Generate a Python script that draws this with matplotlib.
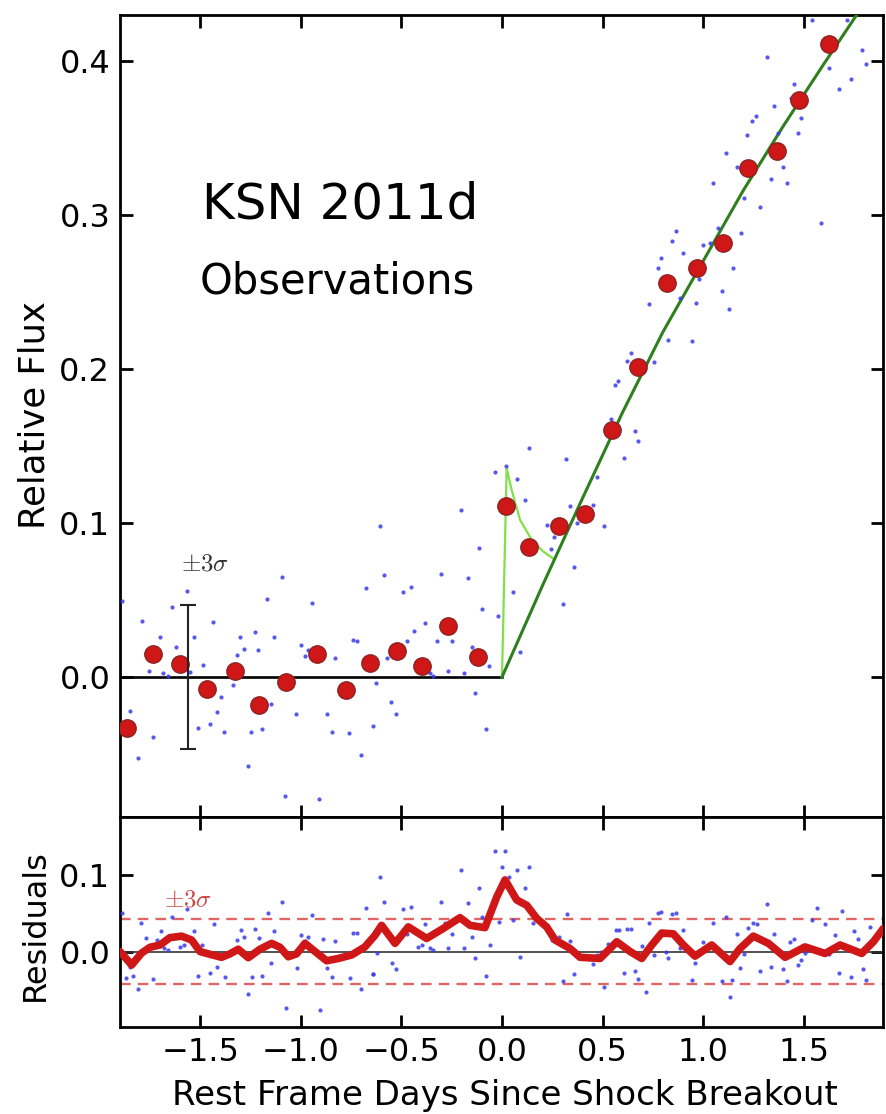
import matplotlib
matplotlib.use("Agg")
import matplotlib.pyplot as plt
import numpy as np

plt.rcParams['mathtext.fontset'] = 'cm'
plt.rcParams['font.family'] = ['DejaVu Sans']

#* binned observations (red circles)
bin_x = [-1.867, -1.735, -1.602, -1.469, -1.328, -1.207, -1.075, -0.922, -0.778,
         -0.657, -0.524, -0.400, -0.267, -0.121, 0.020, 0.136, 0.285, 0.415,
         0.546, 0.678, 0.819, 0.969, 1.098, 1.225, 1.370, 1.478, 1.624]
bin_y = [-0.0333, 0.0147, 0.0082, -0.0080, 0.0041, -0.0182, -0.0030, 0.0147, -0.0084,
         0.0089, 0.0171, 0.0073, 0.0331, 0.0132, 0.1110, 0.0846, 0.0982, 0.1058,
         0.1604, 0.2015, 0.2556, 0.2654, 0.2816, 0.3307, 0.3416, 0.3747, 0.4108]

#* raw flux points (blue dots, top panel)
flux_x = [-1.892, -1.793, -1.771, -1.755, -1.701, -1.685, -1.660, -1.643, -1.622, -1.569,
          -1.552, -1.531, -1.489, -1.436, -1.851, -1.809, -1.738, -1.514, -1.453, -1.416,
          -1.400, -1.381, -1.340, -1.320, -1.303, -1.284, -1.265, -1.249, -1.229, -1.212,
          -1.192, -1.171, -1.151, -1.134, -1.096, -1.078, -1.025, -1.000, -0.980, -0.964,
          -0.945, -0.909, -0.892, -0.872, -0.847, -0.831, -0.760, -0.740, -0.723, -0.703,
          -0.678, -0.643, -0.627, -0.587, -0.571, -0.552, -0.527, -0.491, -0.454, -0.474,
          -0.438, -0.383, -0.358, -0.342, -0.322, -0.303, -0.267, -0.247, -0.187, -0.171,
          -0.151, -0.134, -0.098, -0.080, -0.063, -0.018, 0.053, 0.090, -0.607, -0.206,
          -0.116, -0.036, 0.018, 0.073, 0.133, 0.114, 0.151, 0.222, 0.242, 0.259,
          0.320, 0.338, 0.358, 0.375, 0.454, 0.471, 0.507, 0.544, 0.562, 0.579,
          0.607, 0.660, 0.675, 0.302, 0.624, 0.640, 0.756, 0.733, 0.828, 0.886,
          0.944, 0.963, 0.980, 0.775, 0.791, 0.847, 0.866, 0.902, 0.998, 1.035,
          1.076, 1.093, 1.131, 1.151, 1.188, 1.051, 1.113, 1.168, 1.204, 1.221,
          1.245, 1.264, 1.284, 1.337, 1.355, 1.375, 1.396, 1.416, 1.436, 1.453,
          1.471, 1.488, 1.317, 1.585, 1.624, 1.677, 1.736, 1.544, 1.718, 1.791,
          1.809]
flux_y = [0.0496, 0.0366, 0.0158, 0.0039, 0.0262, 0.0028, 0.0006, 0.0453, 0.0197, 0.0558,
          0.0032, 0.0262, 0.0078, 0.0359, -0.0219, -0.0524, -0.0388, -0.0329, -0.0305, -0.0225,
          -0.0128, -0.0355, -0.0052, 0.0143, 0.0262, 0.0182, -0.0578, -0.0355, 0.0294, 0.0175,
          -0.0340, 0.0504, -0.0177, 0.0262, 0.0651, -0.0773, -0.0242, 0.0208, 0.0136, 0.0175,
          0.0478, -0.0794, 0.0165, -0.0242, -0.0355, 0.0126, -0.0361, 0.0240, 0.0233, -0.0506,
          0.0576, -0.0316, -0.0041, 0.0662, 0.0121, -0.0160, -0.0242, 0.0550, 0.0582, 0.0236,
          0.0301, 0.0353, 0.0024, 0.0007, 0.0233, 0.0669, 0.0039, 0.0233, 0.0028, 0.0641,
          0.0197, -0.0106, 0.0440, -0.0338, 0.0071, 0.0398, 0.0550, 0.0165, 0.0980, 0.1084,
          0.0835, 0.1333, 0.1370, 0.1283, 0.1490, 0.1149, 0.0803, 0.0987, 0.0829, 0.0907,
          0.1413, 0.1110, 0.0716, 0.0998, 0.1117, 0.1300, 0.0980, 0.1675, 0.1894, 0.1924,
          0.1420, 0.1597, 0.1532, 0.0472, 0.2054, 0.2102, 0.2048, 0.2422, 0.2188, 0.2463,
          0.2182, 0.2430, 0.2582, 0.2654, 0.2719, 0.2831, 0.2896, 0.2751, 0.2805, 0.2820,
          0.2918, 0.2509, 0.2390, 0.2654, 0.2885, 0.3206, 0.3405, 0.3310, 0.3108, 0.3520,
          0.3612, 0.3645, 0.3054, 0.3232, 0.3708, 0.3535, 0.3310, 0.3206, 0.3762, 0.3848,
          0.3535, 0.3632, 0.4024, 0.2950, 0.3952, 0.3816, 0.3881, 0.4270, 0.4266, 0.4071,
          0.3978]

#* models
model_x = [0.0, 0.2, 0.4, 0.6, 0.8, 1.0, 1.2, 1.4, 1.6, 1.8, 1.9]
model_y = [0.0, 0.059, 0.116, 0.172, 0.224, 0.270, 0.316, 0.358, 0.398, 0.437, 0.456]
shock_x = [0.0, 0.023, 0.048, 0.090, 0.148, 0.206, 0.254]
shock_y = [0.0, 0.1355, 0.1214, 0.102, 0.089, 0.0814, 0.077]

#* residuals
resid_x = [-1.900, -1.842, -1.793, -1.751, -1.701, -1.652, -1.594, -1.544, -1.502, -1.461,
           -1.395, -1.353, -1.312, -1.262, -1.204, -1.146, -1.104, -1.063, -1.022, -0.980,
           -0.930, -0.872, -0.814, -0.748, -0.682, -0.632, -0.599, -0.532, -0.466, -0.375,
           -0.292, -0.209, -0.159, -0.085, -0.026, 0.015, 0.073, 0.123, 0.173, 0.222,
           0.264, 0.338, 0.388, 0.488, 0.571, 0.637, 0.695, 0.745, 0.794, 0.852,
           0.902, 0.960, 1.043, 1.134, 1.184, 1.250, 1.325, 1.408, 1.507, 1.607,
           1.682, 1.789, 1.847, 1.897]
resid_y = [0.0, -0.0175, -0.002, 0.0055, 0.0085, 0.018, 0.020, 0.015, 0.0, -0.003,
           -0.0075, -0.003, 0.003, -0.008, 0.003, 0.0106, 0.0055, -0.0068, -0.003, 0.0106,
           0.0, -0.012, -0.009, -0.0045, 0.006, 0.021, 0.034, 0.0106, 0.032, 0.017,
           0.030, 0.044, 0.034, 0.031, 0.071, 0.093, 0.067, 0.060, 0.043, 0.032,
           0.015, 0.004, -0.0075, -0.009, 0.0127, 0.0, -0.009, 0.0085, 0.024, 0.023,
           0.0085, -0.006, 0.0085, -0.013, 0.004, 0.020, 0.0106, -0.0075, 0.006, -0.0025,
           0.0085, -0.0025, 0.0127, 0.030]

res_pts_x = [-1.892, -1.796, -1.773, -1.698, -1.718, -1.640, -1.569, -1.531, -1.680, -1.660,
             -1.602, -1.582, -1.491, -1.872, -1.851, -1.834, -1.813, -1.735, -1.511, -1.453,
             -1.416, -1.378, -1.433, -1.320, -1.300, -1.284, -1.229, -1.209, -1.166, -1.133,
             -1.096, -1.245, -1.192, -1.265, -1.149, -1.076, -1.021, -1.000, -0.980, -0.964,
             -0.944, -0.889, -0.831, -0.905, -0.871, -0.847, -0.756, -0.740, -0.723, -0.701,
             -0.678, -0.640, -0.607, -0.587, -0.643, -0.623, -0.549, -0.527, -0.491, -0.454,
             -0.474, -0.416, -0.400, -0.383, -0.358, -0.342, -0.305, -0.284, -0.267, -0.249,
             -0.206, -0.187, -0.171, -0.151, -0.133, -0.114, -0.100, -0.080, -0.060, -0.036,
             0.017, 0.000, -0.017, 0.036, 0.053, 0.073, 0.133, 0.114, 0.090, 0.153,
             0.247, 0.285, 0.322, 0.338, 0.302, 0.358, 0.454, 0.474, 0.491, 0.509,
             0.527, 0.567, 0.580, 0.623, 0.607, 0.642, 0.695, 0.662, 0.678, 0.715,
             0.731, 0.758, 0.775, 0.791, 0.827, 0.847, 0.864, 0.814, 0.886, 0.902,
             0.944, 0.960, 0.998, 1.051, 1.096, 1.113, 1.134, 1.146, 1.168, 1.184,
             1.202, 1.222, 1.250, 1.267, 1.284, 1.318, 1.337, 1.355, 1.400, 1.416,
             1.433, 1.453, 1.471, 1.488, 1.507, 1.544, 1.567, 1.604, 1.624, 1.657,
             1.677, 1.693, 1.736, 1.753, 1.773, 1.793, 1.809, 1.829]
res_pts_y = [0.0496, 0.0374, 0.0171, 0.0266, 0.0149, 0.0452, 0.0552, 0.0266, 0.0041, 0.0020,
             0.0055, 0.0084, 0.0084, -0.0340, -0.0197, -0.0314, -0.0491, -0.0361, -0.0314, -0.0283,
             -0.0205, -0.0327, 0.0357, 0.0149, 0.0279, 0.0184, 0.0292, 0.0180, 0.0504, 0.0262,
             0.0639, -0.0327, -0.0314, -0.0552, -0.0153, -0.0730, -0.0218, 0.0214, 0.0140, 0.0184,
             0.0474, 0.0166, 0.0136, -0.0760, -0.0218, -0.0327, -0.0340, 0.0244, 0.0236, -0.0491,
             0.0569, -0.0296, 0.0971, 0.0647, -0.0296, -0.0024, -0.0153, -0.0231, 0.0548, 0.0582,
             0.0227, 0.0055, 0.0084, 0.0357, 0.0041, 0.0020, 0.0647, 0.0374, 0.0041, 0.0227,
             0.1058, 0.0041, 0.0634, 0.0192, -0.0088, 0.0820, 0.0444, -0.0314, 0.0084, 0.1305,
             0.1305, 0.1093, 0.0387, 0.0963, 0.0405, 0.1058, 0.1093, 0.0820, -0.0076, 0.0374,
             0.0149, 0.0184, 0.0487, 0.0136, -0.0379, -0.0296, -0.0166, -0.0045, 0.0000, -0.0457,
             0.0097, 0.0279, 0.0279, 0.0292, -0.0283, 0.0292, 0.0071, -0.0249, -0.0361, -0.0522,
             0.0374, -0.0045, 0.0504, 0.0517, -0.0088, 0.0487, 0.0504, 0.0000, 0.0041, 0.0279,
             -0.0370, -0.0153, 0.0119, 0.0374, -0.0379, 0.0444, -0.0587, -0.0370, 0.0227, -0.0218,
             -0.0032, 0.0309, 0.0374, 0.0352, -0.0249, 0.0617, -0.0197, 0.0227, -0.0227, -0.0379,
             0.0119, 0.0162, -0.0171, -0.0106, -0.0015, 0.0409, 0.0569, 0.0352, -0.0032, 0.0214,
             -0.0283, 0.0530, -0.0327, 0.0266, 0.0162, -0.0227, -0.0370, 0.0318]

sigma_bar = 0.047     #* +-3 sigma on a single point
sigma_res = 0.042     #* +-3 sigma band in residuals

red = '#d01717'
blue = '#3b3bea'

fig = plt.figure(figsize=(8.87, 11.14), dpi=100)
ax = fig.add_axes([0.1353, 0.2666, 0.8602, 0.7199])
axr = fig.add_axes([0.1353, 0.0781, 0.8602, 0.1885])

#* top panel
ax.plot([-1.9, 0.0], [0.0, 0.0], color='black', lw=1.9, zorder=2)
ax.plot(shock_x, shock_y, color='#80e048', lw=1.6, zorder=2)
ax.plot(model_x, model_y, color='#2f7f1f', lw=2.2, zorder=3)
ax.plot(flux_x, flux_y, 'o', ms=3.0, color=blue, mec='none', alpha=0.85, zorder=4)
ax.plot(bin_x, bin_y, 'o', ms=12.5, mfc=red, mec='#8c2222', mew=1.0, zorder=5)
ax.errorbar([-1.561], [0.0], yerr=[sigma_bar], fmt='none', ecolor='#222222',
            elinewidth=1.5, capsize=5.5, capthick=1.5, zorder=6)
ax.text(-1.478, 0.074, r'$\pm3\sigma$', fontsize=18, color='#333333', ha='center', va='center')
ax.text(-0.806, 0.298, 'KSN 2011d', fontsize=36, ha='center', va='baseline')
ax.text(-0.818, 0.249, 'Observations', fontsize=30, ha='center', va='baseline')

ax.set_xlim(-1.9, 1.895)
ax.set_ylim(-0.0909, 0.4299)
ax.set_yticks([0.0, 0.1, 0.2, 0.3, 0.4])
ax.set_xticks([-1.5, -1.0, -0.5, 0.0, 0.5, 1.0, 1.5])
ax.tick_params(labelbottom=False)

#* residual panel
axr.axhline(0.0, color='#333333', lw=1.2, zorder=2)
for s in (sigma_res, -sigma_res):
    axr.axhline(s, color='#e06666', lw=1.7, dashes=(4.5, 3.0), zorder=2)
axr.plot(res_pts_x, res_pts_y, 'o', ms=3.0, color=blue, mec='none', alpha=0.85, zorder=3)
axr.plot(resid_x, resid_y, color=red, lw=5.5, solid_capstyle='round',
         solid_joinstyle='round', zorder=4)
axr.text(-1.56, 0.067, r'$\pm3\sigma$', fontsize=18, color='#d04545', ha='center', va='center')

axr.set_xlim(-1.9, 1.895)
axr.set_ylim(-0.098, 0.1747)
axr.set_yticks([0.0, 0.1])
axr.set_xticks([-1.5, -1.0, -0.5, 0.0, 0.5, 1.0, 1.5])

for a in (ax, axr):
    for sp in a.spines.values():
        sp.set_linewidth(2.0)
    a.tick_params(direction='in', top=True, right=True, length=9, width=2.0,
                  labelsize=23, pad=7)

fig.text(35 / 887, 1 - 415 / 1114, 'Relative Flux', rotation=90, fontsize=25.5,
         ha='center', va='center')
fig.text(35 / 887, 1 - 925 / 1114, 'Residuals', rotation=90, fontsize=23,
         ha='center', va='center')
fig.text(505 / 887, 0.008, 'Rest Frame Days Since Shock Breakout', fontsize=24.5,
         ha='center', va='baseline')

fig.savefig('out.png', dpi=100)
